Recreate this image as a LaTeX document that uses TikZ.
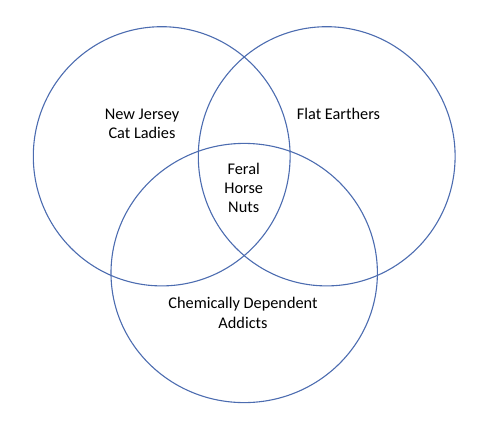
\documentclass[tikz,border=0pt]{standalone}
\usepackage{fontspec}
\setmainfont{Carlito}
\definecolor{vennblue}{RGB}{76,108,176}
\begin{document}
\begin{tikzpicture}[x=1pt,y=-1pt,
  ring/.style={draw=vennblue,line width=1.1pt},
  lbl/.style={font=\fontsize{16.3}{19.3}\selectfont,align=center,text=black,inner sep=0pt}]
\useasboundingbox (0,0) rectangle (500,431);
\draw[ring] (161.7,156.3) ellipse [x radius=128.4, y radius=129.6];
\draw[ring] (326.7,156.3) ellipse [x radius=128.4, y radius=129.6];
\draw[ring] (244.2,273.0) ellipse [x radius=133.2, y radius=129.6];
\node[lbl] (nj) at (142,124) {New Jersey\\Cat Ladies};
\node[lbl] (fe) at (338.5,114) {Flat Earthers};
\node[lbl] (fh) at (243.7,188) {Feral\\Horse\\Nuts};
\node[lbl] (cd) at (243,313) {Chemically Dependent\\Addicts};
\end{tikzpicture}
\end{document}
